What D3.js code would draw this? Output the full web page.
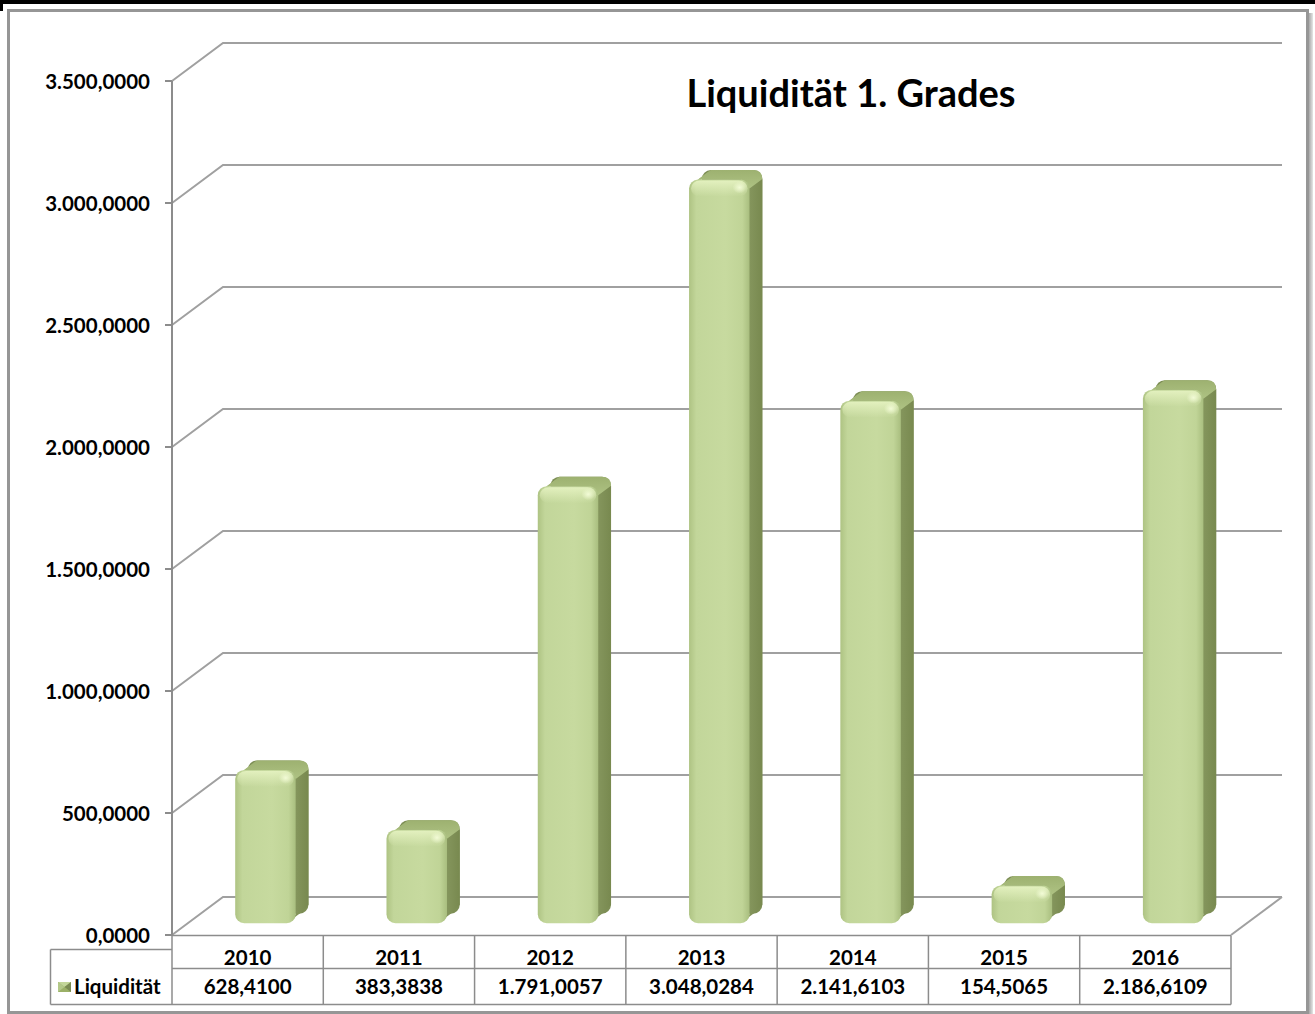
<!DOCTYPE html>
<html>
<head>
<meta charset="utf-8">
<script src="https://cdn.jsdelivr.net/npm/d3@7"></script>
<style>
  html, body { margin: 0; padding: 0; background: #ffffff; }
  svg { display: block; }
  text { font-family: Lato, "Liberation Sans", sans-serif; font-weight: bold; fill: #000; }
</style>
</head>
<body>
<svg id="chart" width="1315" height="1014"></svg>
<script>
// ---- data ----
const years = ["2010", "2011", "2012", "2013", "2014", "2015", "2016"];
const values = [628.4100, 383.3838, 1791.0057, 3048.0284, 2141.6103, 154.5065, 2186.6109];
const valueLabels = ["628,4100", "383,3838", "1.791,0057", "3.048,0284", "2.141,6103", "154,5065", "2.186,6109"];
const tickValues = [0, 500, 1000, 1500, 2000, 2500, 3000, 3500];
const tickLabels = ["0,0000", "500,0000", "1.000,0000", "1.500,0000", "2.000,0000", "2.500,0000", "3.000,0000", "3.500,0000"];
const seriesName = "Liquidität";
const title = "Liquidität 1. Grades";

// ---- layout ----
const W = 1315, H = 1014;
const plotLeft = 172, plotRight = 1231, yBottom = 935, yTop = 81;
const DX = 51, DY = -38;           // depth offset of the back wall
const d1 = 0.31, d2 = 0.56;        // bar depth (fraction of wall depth)
const gridColor = "#a0a0a0";
const FS = 20.5;

const svg = d3.select("#chart");
const defs = svg.append("defs");

// gradients
const gFront = defs.append("linearGradient").attr("id", "gFront").attr("x1", 0).attr("x2", 1).attr("y1", 0).attr("y2", 0);
[["0%", "#aec383"], ["12%", "#c2d69a"], ["60%", "#c7da9f"], ["88%", "#c0d497"], ["100%", "#a9be7f"]]
  .forEach(([o, c]) => gFront.append("stop").attr("offset", o).attr("stop-color", c));
const gHi = defs.append("linearGradient").attr("id", "gHi").attr("x1", 0).attr("x2", 0).attr("y1", 0).attr("y2", 1);
[["0%", "#e6f3c2", 0.9], ["100%", "#e6f3c2", 0]]
  .forEach(([o, c, op]) => gHi.append("stop").attr("offset", o).attr("stop-color", c).attr("stop-opacity", op));
const gSpot = defs.append("radialGradient").attr("id", "gSpot");
[["0%", "#f2fbd6", 1], ["100%", "#f2fbd6", 0]]
  .forEach(([o, c, op]) => gSpot.append("stop").attr("offset", o).attr("stop-color", c).attr("stop-opacity", op));
const gSide = defs.append("linearGradient").attr("id", "gSide").attr("x1", 0).attr("x2", 1).attr("y1", 0).attr("y2", 0);
[["0%", "#8d9e66"], ["100%", "#78894f"]]
  .forEach(([o, c]) => gSide.append("stop").attr("offset", o).attr("stop-color", c));
const gTop = defs.append("linearGradient").attr("id", "gTop").attr("x1", 0).attr("x2", 0).attr("y1", 1).attr("y2", 0);
[["0%", "#aec283"], ["100%", "#9db170"]]
  .forEach(([o, c]) => gTop.append("stop").attr("offset", o).attr("stop-color", c));
const gShadowR = defs.append("linearGradient").attr("id", "gShadowR").attr("x1", 0).attr("x2", 1);
[["0%", "#8a8a8a"], ["100%", "#e6e6e6"]]
  .forEach(([o, c]) => gShadowR.append("stop").attr("offset", o).attr("stop-color", c));

// ---- outer frame ----
svg.append("rect").attr("x", 0).attr("y", 0).attr("width", W).attr("height", H).attr("fill", "#ffffff");
svg.append("rect").attr("x", 0).attr("y", 0).attr("width", W).attr("height", 4).attr("fill", "#000");
svg.append("rect").attr("x", 0).attr("y", 0).attr("width", 3).attr("height", 11).attr("fill", "#000");
svg.append("rect").attr("x", 1307).attr("y", 13).attr("width", 6).attr("height", 1001).attr("fill", "url(#gShadowR)");
svg.append("rect").attr("x", 8.5).attr("y", 10.5).attr("width", 1299).attr("height", 1002)
  .attr("fill", "none").attr("stroke", "#969696").attr("stroke-width", 3);

// ---- scales ----
const y = d3.scaleLinear().domain([0, 3500]).range([yBottom, yTop]);
const x = d3.scaleBand().domain(years).range([plotLeft, plotRight]).paddingInner(0.6).paddingOuter(0.3);
const col = d3.scaleBand().domain(years).range([plotLeft, plotRight]);

// ---- walls / gridlines ----
const grid = svg.append("g").attr("fill", "none").attr("stroke", gridColor).attr("stroke-width", 2);
tickValues.forEach(v => {
  const yy = y(v);
  grid.append("path").attr("d", `M${plotLeft},${yy} L${plotLeft + DX},${yy + DY} L${plotRight + DX},${yy + DY}`);
});
// floor right edge
grid.append("path").attr("d", `M${plotRight},${yBottom} L${plotRight + DX},${yBottom + DY}`);
// front vertical axis
svg.append("line").attr("x1", plotLeft).attr("x2", plotLeft).attr("y1", y(3500)).attr("y2", yBottom)
  .attr("stroke", "#8c8c8c").attr("stroke-width", 2);

// y ticks and labels
const yAxis = svg.append("g");
tickValues.forEach((v, i) => {
  yAxis.append("line").attr("x1", plotLeft - 7).attr("x2", plotLeft).attr("y1", y(v)).attr("y2", y(v))
    .attr("stroke", "#8c8c8c").attr("stroke-width", 2);
  yAxis.append("text").attr("x", 150).attr("y", y(v) + 8).attr("text-anchor", "end")
    .attr("font-size", FS).text(tickLabels[i]);
});

// ---- bars ----
const bdx = DX * (d2 - d1), bdy = DY * (d2 - d1);
const bw = x.bandwidth();
const bars = svg.append("g");
years.forEach((yr, i) => {
  const v = values[i];
  const fx = x(yr) + DX * d1 + 2;
  const fy0 = yBottom + DY * d1;
  const fy1 = y(v) + DY * d1;
  const h = fy0 - fy1;
  const r = Math.min(9, h / 3);
  const g = bars.append("g");
  // back silhouette (rounded)
  g.append("rect").attr("x", fx + bdx).attr("y", fy1 + bdy).attr("width", bw).attr("height", h)
    .attr("rx", r).attr("fill", "#7d8e55");
  // side face
  g.append("path").attr("d",
    `M${fx + bw - r},${fy0} L${fx + bw - r + bdx},${fy0 + bdy} L${fx + bw + bdx},${fy0 + bdy - r} L${fx + bw + bdx},${fy1 + bdy + r} L${fx + bw},${fy1 + r} L${fx + bw},${fy0 - r} Z`)
    .attr("fill", "url(#gSide)");
  // top face
  g.append("path").attr("d",
    `M${fx + r},${fy1} L${fx + r + bdx},${fy1 + bdy} L${fx + bw - r + bdx},${fy1 + bdy} Q${fx + bw + bdx},${fy1 + bdy} ${fx + bw + bdx},${fy1 + bdy + r} L${fx + bw},${fy1 + r} L${fx + bw - r},${fy1} Z`)
    .attr("fill", "url(#gTop)");
  g.append("path").attr("d",
    `M${fx},${fy1 + r} L${fx + bdx},${fy1 + bdy + r} L${fx + bdx + r},${fy1 + bdy} L${fx + r},${fy1} Z`)
    .attr("fill", "url(#gTop)");
  // front face
  g.append("rect").attr("x", fx).attr("y", fy1).attr("width", bw).attr("height", h)
    .attr("rx", r).attr("fill", "url(#gFront)");
  // top highlight band
  g.append("rect").attr("x", fx + 2).attr("y", fy1 + 1).attr("width", bw - 4).attr("height", Math.min(16, h / 2))
    .attr("rx", r).attr("fill", "url(#gHi)");
  // highlight spot near top right
  g.append("ellipse").attr("cx", fx + bw - 10).attr("cy", fy1 + 8).attr("rx", 7).attr("ry", 6)
    .attr("fill", "url(#gSpot)");
});

// ---- data table ----
const tTop = 935.5, tMid = 968.5, tBot = 1004.5, labLeft = 50.5, labTop = 949.5;
const table = svg.append("g").attr("fill", "none").attr("stroke", "#8c8c8c").attr("stroke-width", 1.5);
table.append("line").attr("x1", plotLeft).attr("x2", plotRight).attr("y1", tTop).attr("y2", tTop);
table.append("line").attr("x1", plotLeft).attr("x2", plotRight).attr("y1", tMid).attr("y2", tMid);
table.append("line").attr("x1", labLeft).attr("x2", plotRight).attr("y1", tBot).attr("y2", tBot);
table.append("line").attr("x1", labLeft).attr("x2", plotLeft).attr("y1", labTop).attr("y2", labTop);
table.append("line").attr("x1", labLeft).attr("x2", labLeft).attr("y1", labTop).attr("y2", tBot);
years.forEach(yr => {
  table.append("line").attr("x1", col(yr)).attr("x2", col(yr)).attr("y1", tTop).attr("y2", tBot);
});
table.append("line").attr("x1", plotRight).attr("x2", plotRight).attr("y1", tTop).attr("y2", tBot);

years.forEach((yr, i) => {
  const cx = col(yr) + col.bandwidth() / 2;
  svg.append("text").attr("x", cx).attr("y", 965).attr("text-anchor", "middle").attr("font-size", FS).text(yr);
  svg.append("text").attr("x", cx).attr("y", 994).attr("text-anchor", "middle").attr("font-size", FS).text(valueLabels[i]);
});

// legend key
const kx = 58, ky = 982, ks = 13;
const key = svg.append("g");
key.append("rect").attr("x", kx).attr("y", ky).attr("width", ks).attr("height", ks - 3).attr("fill", "#9bb067");
key.append("path").attr("d", `M${kx},${ky} L${kx + ks},${ky} L${kx + ks / 2},${ky + (ks - 3) / 2} Z`).attr("fill", "#c3d699");
key.append("path").attr("d", `M${kx},${ky} L${kx},${ky + ks - 3} L${kx + ks / 2},${ky + (ks - 3) / 2} Z`).attr("fill", "#b3c888");
key.append("path").attr("d", `M${kx + ks},${ky} L${kx + ks},${ky + ks - 3} L${kx + ks / 2},${ky + (ks - 3) / 2} Z`).attr("fill", "#7a8b52");
svg.append("text").attr("x", 74).attr("y", 994).attr("font-size", FS).text(seriesName);

// ---- title ----
svg.append("text").attr("x", 851).attr("y", 107).attr("text-anchor", "middle").attr("font-size", 38).text(title);
</script>
</body>
</html>
